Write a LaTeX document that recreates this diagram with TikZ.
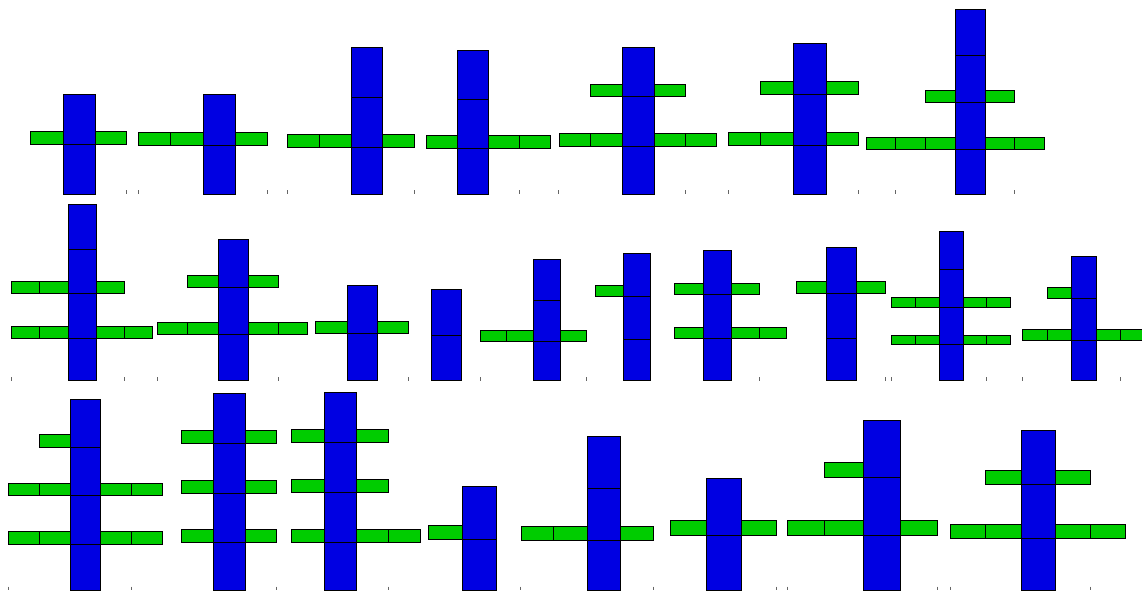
\documentclass[tikz,border=0pt]{standalone}
\definecolor{stemblue}{RGB}{0,0,226}
\definecolor{armgreen}{RGB}{0,204,0}
\tikzset{
  trunkbox/.style={fill=stemblue,draw=black,line width=0.65pt},
  branchbox/.style={fill=armgreen,draw=black,line width=0.65pt},
  axtick/.style={draw=black!60,line width=0.6pt}
}
\newcommand\plantstem[3]{\foreach \ya/\yb in {#3} {\path[trunkbox] (#1,\ya) rectangle (#2,\yb);}}
\newcommand\plantarm[3]{\foreach \xa/\xb in {#3} {\path[branchbox] (\xa,#1) rectangle (\xb,#2);}}
\begin{document}
\begin{tikzpicture}[x=0.75pt,y=-0.75pt]
\useasboundingbox (0,0) rectangle (1142,590);
\clip (0,0) rectangle (1142,590);
% ---- ticks
\foreach \t in {126,138.3,267.7,287.3,414.3,519.3,558.3,685,728.3,858.3,895.3,1014.3} {\path[axtick] (\t,190) -- (\t,193.5);}
\foreach \t in {11.3,124.3,157,278,408.3,480.3,586.5,759,885,891.7,986.7,1022.7,1120.7} {\path[axtick] (\t,377) -- (\t,380.5);}
\foreach \t in {8.3,131.7,276.3,388.7,520,653,776.7,787.3,937.3,950,1090.7} {\path[axtick] (\t,586.5) -- (\t,590);}
% ---- row 1
\plantarm{131.7}{144.7}{30.7/63,95/126}
\plantstem{63}{95}{94.7/144.7,144.7/194.5}
\plantarm{132}{145.3}{138.3/170.7,170.7/203.3,235.7/267.7}
\plantstem{203.3}{235.7}{94.3/145.3,145.3/194.5}
\plantarm{134.7}{147.3}{287.3/319.3,319.3/351.3,382.7/414.3}
\plantstem{351.3}{382.7}{47.7/97.7,97.7/147.3,147.3/194.5}
\plantarm{135.3}{148.3}{426.3/457.7,488.7/519.3,519.3/550.3}
\plantstem{457.7}{488.7}{50.7/99.3,99.3/148.3,148.3/194.5}
\plantarm{84}{96.7}{590.3/622.3,654/685}
\plantarm{133.7}{146.3}{559/590.3,590.3/622.3,654/685,685/716.3}
\plantstem{622.3}{654}{47.3/96.7,96.7/146.3,146.3/194.5}
\plantarm{81}{94.7}{760.7/793.7,826/858.3}
\plantarm{132}{145.3}{728.3/760.7,760.7/793.7,826/858.3}
\plantstem{793.7}{826}{43.3/94.7,94.7/145.3,145.3/194.5}
\plantarm{90.3}{102.3}{925.3/955.3,985/1014.3}
\plantarm{137}{149.3}{866/895.3,895.3/925.3,925.3/955.3,985/1014.3,1014.3/1044}
\plantstem{955.3}{985}{9/55.7,55.7/102.3,102.3/149.3,149.3/194.5}
% ---- row 2
\plantarm{281.7}{293.7}{11.3/39.7,39.7/68,96.3/124.3}
\plantarm{326.3}{338.7}{11.3/39.7,39.7/68,96.3/124.3,124.3/152.3}
\plantstem{68}{96.3}{204/249,249/293.7,293.7/338.7,338.7/380.5}
\plantarm{275}{287.3}{187/218,248/278}
\plantarm{322.3}{334.7}{157/187,187/218,248/278,278/307.7}
\plantstem{218}{248}{239.3/287.3,287.3/334.7,334.7/380.5}
\plantarm{321}{333.3}{315.3/347,377.7/408.3}
\plantstem{347}{377.7}{285/333.3,333.3/380.5}
\plantstem{431.3}{461.3}{289.7/335.7,335.7/380.5}
\plantarm{330.3}{341}{480.3/506.7,506.7/533.7,560/586.3}
\plantstem{533.7}{560}{259.3/300.3,300.3/341,341/380.5}
\plantarm{285}{296}{595.3/623.3}
\plantstem{623.3}{650.7}{253.3/296,296/339.3,339.3/380.5}
\plantarm{283}{294.3}{674.7/703.3,731/759}
\plantarm{327.3}{338.7}{674.7/703.3,731/759,759/786.7}
\plantstem{703.3}{731}{250/294.3,294.3/338.7,338.7/380.5}
\plantarm{281.3}{293}{796.3/826.3,856/885.7}
\plantstem{826.3}{856}{247.7/293,293/338.7,338.7/380.5}
\plantarm{297.3}{307.3}{891.7/915.3,915.3/939.3,963/986.7,986.7/1010.3}
\plantarm{335}{344.7}{891.7/915.3,915.3/939.3,963/986.7,986.7/1010.3}
\plantstem{939.3}{963}{231.7/269.3,269.3/307.3,307.3/344.7,344.7/380.5}
\plantarm{287.7}{298.7}{1047/1071.7}
\plantarm{329.7}{340.7}{1022.7/1047,1047/1071.7,1096.3/1120.7,1120.7/1145}
\plantstem{1071.7}{1096.3}{256.7/298.7,298.7/340.7,340.7/380.5}
% ---- row 3
\plantarm{434.3}{447.3}{39/70.3}
\plantarm{483}{495.7}{8.3/39,39/70.3,100.7/131.7,131.7/162}
\plantarm{531.3}{544.3}{8.3/39,39/70.3,100.7/131.7,131.7/162}
\plantstem{70.3}{100.7}{399/447.3,447.3/495.7,495.7/544.3,544.3/590.5}
\plantarm{430.3}{443.3}{181.3/213.7,245.3/276.3}
\plantarm{480}{493}{181.3/213.7,245.3/276.3}
\plantarm{529.3}{542.7}{181.3/213.7,245.3/276.3}
\plantstem{213.7}{245.3}{393.7/443.3,443.3/493,493/542.7,542.7/590.5}
\plantarm{429.3}{442.7}{291.3/324.3,356.7/388.7}
\plantarm{479.7}{492.7}{291.3/324.3,356.7/388.7}
\plantarm{529.7}{542.7}{291.3/324.3,356.7/388.7,388.7/420.7}
\plantstem{324.3}{356.7}{392.3/442.7,442.7/492.7,492.7/542.7,542.7/590.5}
\plantarm{525.3}{539.3}{428.3/462.3}
\plantstem{462.3}{496}{486/539.3,539.3/590.5}
\plantarm{526.3}{540.3}{521/553.7,553.7/587.3,620.3/653}
\plantstem{587.3}{620.3}{436.7/488.3,488.3/540.3,540.3/590.5}
\plantarm{520}{535}{670/706.3,741.7/776.7}
\plantstem{706.3}{741.7}{478.3/535,535/590.5}
\plantarm{462.7}{477.3}{824.7/863}
\plantarm{520}{535.3}{787.3/824.7,824.7/863,900.3/937.3}
\plantstem{863}{900.3}{420/477.3,477.3/535.3,535.3/590.5}
\plantarm{470.3}{484.3}{985/1021,1055.7/1090.7}
\plantarm{524.3}{538.3}{950.3/985,985/1021,1055.7/1090.7,1090.7/1125.7}
\plantstem{1021}{1055.7}{430/484.3,484.3/538.3,538.3/590.5}
\end{tikzpicture}
\end{document}
